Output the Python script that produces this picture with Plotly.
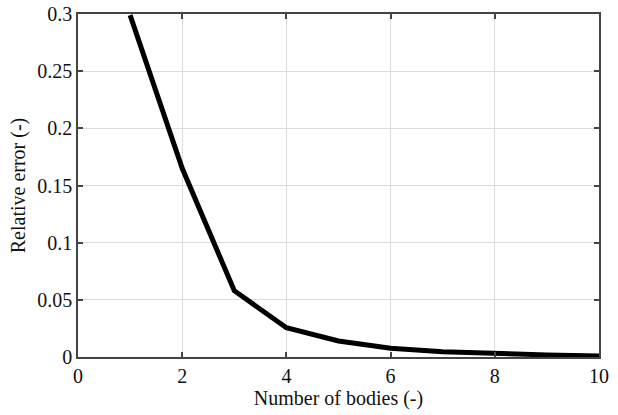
import plotly.graph_objects as go

num_bodies = [1, 2, 3, 4, 5, 6, 7, 8, 9, 10]
relative_error = [0.299, 0.165, 0.058, 0.0256, 0.014, 0.0077, 0.0047, 0.003, 0.0018, 0.0008]

x_ticks = [0, 2, 4, 6, 8, 10]
y_ticks = [0, 0.05, 0.1, 0.15, 0.2, 0.25, 0.3]
y_tick_text = ["0", "0.05", "0.1", "0.15", "0.2", "0.25", "0.3"]

fig = go.Figure()
fig.add_trace(go.Scatter(
    x=num_bodies, y=relative_error, mode="lines",
    line=dict(color="black", width=5),
    showlegend=False,
))

font = dict(family="Liberation Serif", size=20, color="#111")
axis_common = dict(
    showgrid=True, gridcolor="#dcdcdc", gridwidth=1,
    showline=True, linecolor="#444", linewidth=1.5, mirror="ticks",
    ticks="inside", ticklen=5, tickcolor="#444", tickwidth=1.5,
    zeroline=False, tickfont=font, automargin=False,
)
fig.update_layout(
    width=618, height=415,
    margin=dict(l=78, r=19, t=14, b=58),
    paper_bgcolor="white", plot_bgcolor="white",
    font=font,
    xaxis=dict(range=[0, 10], tickvals=x_ticks, title=dict(text="Number of bodies (-)", font=font, standoff=4), **axis_common),
    yaxis=dict(range=[0, 0.3], tickvals=y_ticks, ticktext=y_tick_text, title=dict(text="Relative error (-)", font=font, standoff=6), **axis_common),
)
fig.write_html("out.html")
